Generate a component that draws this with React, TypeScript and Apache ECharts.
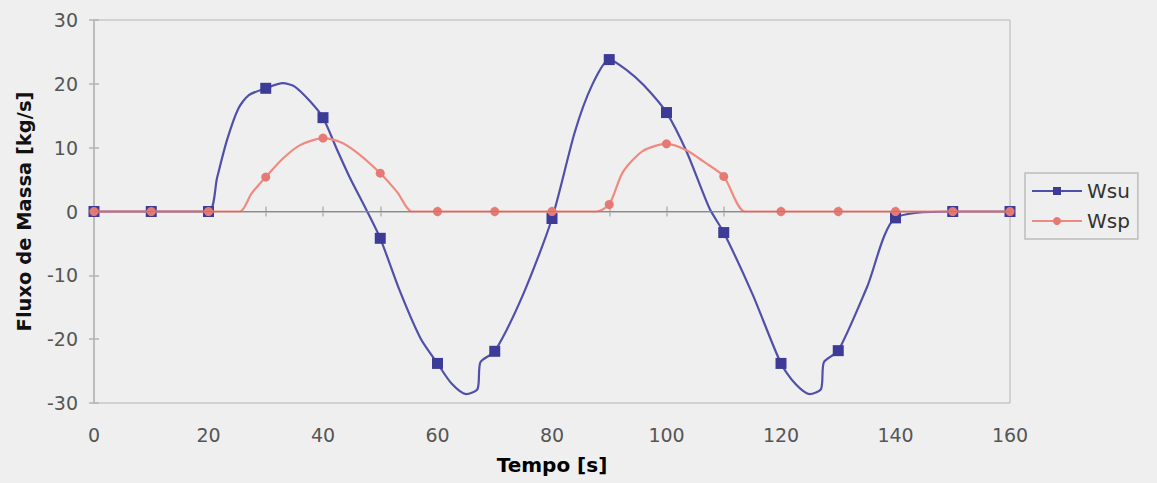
import React, { useEffect, useRef } from "react";
import * as echarts from "echarts";

// Times at which the original chart draws a marker
const markerTimes = [0, 10, 20, 30, 40, 50, 60, 70, 80, 90, 100, 110, 120, 130, 140, 150, 160];

// Wsu curve (time [s], mass flow [kg/s])
const wsuTime = [0, 10, 20, 21.5, 23.2, 25.2, 27, 30, 33, 35, 37.7, 40, 42.4, 44.7, 47.5, 50, 53.4, 57, 60, 62.5, 65, 67, 67.5, 70, 75, 80, 84, 87, 90, 93, 96, 100, 103.5, 107.5, 110, 115, 120, 122.5, 125, 127, 127.5, 130, 135, 140, 150, 160];
const wsuFlow = [0, 0, 0, 5.3, 11.1, 16.1, 18.2, 19.3, 20.1, 19.6, 17.3, 14.7, 9.8, 5.3, 0.4, -4.2, -12.4, -19.8, -23.8, -27.0, -28.6, -27.8, -23.6, -21.9, -12.9, -1.1, 12.5, 19.8, 23.8, 22.2, 19.8, 15.5, 9.4, 0.5, -3.3, -12.9, -23.8, -27.0, -28.6, -27.8, -23.6, -21.8, -11.9, -1.0, 0, 0];

// Wsp curve
const wspTime = [0, 10, 20, 25.5, 27.5, 30, 33, 36, 40, 43, 46, 50, 53, 55.5, 60, 70, 80, 87.8, 90, 92.4, 95.9, 100, 103.5, 106.5, 110, 113.7, 120, 130, 140, 150, 160];
const wspFlow = [0, 0, 0, 0, 2.8, 5.4, 8.3, 10.4, 11.5, 10.9, 9.2, 6.0, 3.0, 0, 0, 0, 0, 0, 1.1, 6.2, 9.5, 10.6, 9.6, 7.8, 5.5, 0, 0, 0, 0, 0, 0];

const buildData = (t: number[], v: number[]) =>
  t.map((x, i) =>
    markerTimes.includes(x)
      ? { value: [x, v[i]] }
      : { value: [x, v[i]], symbol: "none" }
  );

export default function App() {
  const ref = useRef<HTMLDivElement>(null);
  useEffect(() => {
    if (!ref.current) return;
    const chart = echarts.init(ref.current, null, { renderer: "svg" });
    const font = "DejaVu Sans";
    const tickStyle = { color: "#b4b4b4", width: 1.5 };
    const axisBase = {
      type: "value" as const,
      axisLine: { show: true, lineStyle: tickStyle },
      splitLine: { show: false },
    };
    chart.setOption({
      animation: false,
      backgroundColor: "#efefef",
      textStyle: { fontFamily: font },
      grid: {
        left: 94,
        right: 147,
        top: 20,
        bottom: 80,
        show: true,
        borderColor: "#b4b4b4",
        borderWidth: 1,
        backgroundColor: "transparent",
      },
      legend: {
        orient: "vertical",
        left: 1025,
        top: 173,
        padding: [8, 8, 8, 6],
        itemWidth: 50,
        itemHeight: 10,
        itemGap: 10,
        borderColor: "#bdbdbd",
        borderWidth: 1.5,
        backgroundColor: "#efefef",
        textStyle: { fontSize: 20, color: "#333", fontFamily: font },
        data: ["Wsu", "Wsp"],
      },
      xAxis: [
        {
          ...axisBase,
          min: 0,
          max: 160,
          interval: 20,
          name: "Tempo [s]",
          nameLocation: "middle",
          nameGap: 52,
          nameTextStyle: { fontSize: 20, fontWeight: "bold", color: "#000", fontFamily: font },
          axisTick: { show: true, length: 5, lineStyle: tickStyle },
          minorTick: { show: true, splitNumber: 2, length: 5, lineStyle: tickStyle },
          axisLabel: { fontSize: 19, color: "#555", margin: 22, fontFamily: font },
        },
        {
          ...axisBase,
          min: 0,
          max: 160,
          interval: 20,
          position: "bottom",
          axisLine: { show: false },
          axisLabel: { show: false },
          axisTick: { show: true, inside: true, length: 5, lineStyle: tickStyle },
          minorTick: { show: true, splitNumber: 2, length: 5, lineStyle: tickStyle },
        },
      ],
      yAxis: [
        {
          ...axisBase,
          min: -30,
          max: 30,
          interval: 10,
          name: "Fluxo de Massa [kg/s]",
          nameLocation: "middle",
          nameGap: 60,
          nameTextStyle: { fontSize: 19.5, fontWeight: "bold", color: "#111", fontFamily: font },
          axisTick: { show: true, length: 5, lineStyle: tickStyle },
          axisLabel: { fontSize: 19, color: "#555", margin: 16, fontFamily: font },
        },
        {
          ...axisBase,
          min: -30,
          max: 30,
          interval: 10,
          position: "left",
          offset: 0,
          axisLine: { show: false },
          axisLabel: { show: false },
          axisTick: { show: true, inside: true, length: 5, lineStyle: tickStyle },
        },
      ],
      series: [
        {
          name: "Wsu",
          type: "line",
          smooth: 0.25,
          symbol: "rect",
          symbolSize: 11,
          data: buildData(wsuTime, wsuFlow),
          lineStyle: { color: "#5050aa", width: 2.2 },
          itemStyle: { color: "#3c3c98" },
          markLine: {
            silent: true,
            symbol: "none",
            label: { show: false },
            lineStyle: { color: "#8a8a8a", width: 1.2, type: "solid" },
            data: [{ yAxis: 0 }],
          },
          z: 2,
        },
        {
          name: "Wsp",
          type: "line",
          smooth: 0.25,
          symbol: "circle",
          symbolSize: 9,
          data: buildData(wspTime, wspFlow),
          lineStyle: { color: "#f08a80", width: 2.2 },
          itemStyle: { color: "#e57a74" },
          z: 3,
        },
      ],
    });
    return () => chart.dispose();
  }, []);
  return (
    <div
      ref={ref}
      style={{ position: "fixed", left: 0, top: 0, width: 1157, height: 483 }}
    />
  );
}
